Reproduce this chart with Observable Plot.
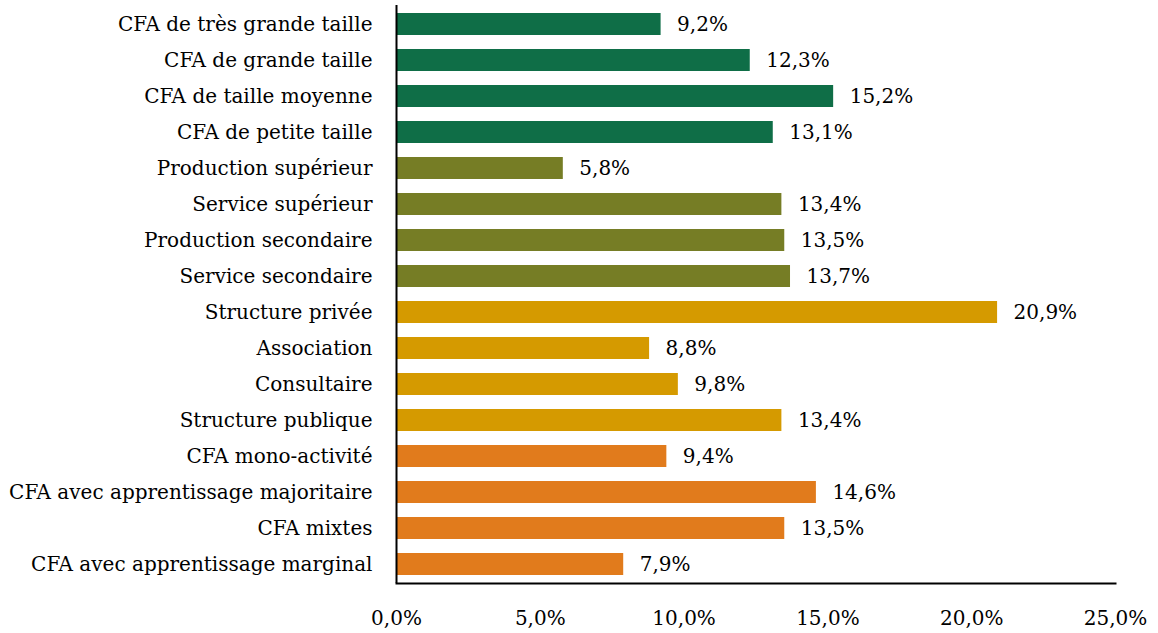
<!DOCTYPE html>
<html><head><meta charset="utf-8">
<script src="https://cdn.jsdelivr.net/npm/d3@7"></script>
<script src="https://cdn.jsdelivr.net/npm/@observablehq/plot@0.6"></script>
<style>
html,body{margin:0;padding:0;background:#fff;}
svg{font-family:"DejaVu Serif",serif;}
</style></head>
<body><div id="chart"></div>
<script>
const categories = [
  "CFA de très grande taille","CFA de grande taille","CFA de taille moyenne","CFA de petite taille",
  "Production supérieur","Service supérieur","Production secondaire","Service secondaire",
  "Structure privée","Association","Consultaire","Structure publique",
  "CFA mono-activité","CFA avec apprentissage majoritaire","CFA mixtes","CFA avec apprentissage marginal"
];
const values = [9.2,12.3,15.2,13.1, 5.8,13.4,13.5,13.7, 20.9,8.8,9.8,13.4, 9.4,14.6,13.5,7.9];
const groups = ["taille","taille","taille","taille","niveau","niveau","niveau","niveau",
  "statut","statut","statut","statut","activite","activite","activite","activite"];
const groupNames = ["taille","niveau","statut","activite"];
const groupColors = ["#0f6e47","#767d25","#d59a00","#e17b1c"];
const xTicks = [0,5,10,15,20,25];

const data = categories.map((c,i)=>({cat:c, v:values[i], g:groups[i]}));
const fmt = d => d.toFixed(1).replace(".", ",") + "%";

const chart = Plot.plot({
  width: 1158, height: 633,
  marginLeft: 396, marginRight: 43, marginTop: 5, marginBottom: 50,
  style: {fontFamily: '"DejaVu Serif", serif', fontSize: "20px", color: "#000", background: "#fff"},
  x: {domain: [0,25], ticks: xTicks, tickFormat: fmt, tickSize: 0, tickPadding: 27, label: null},
  y: {domain: categories, paddingInner: 0.39, paddingOuter: 0.195, tickSize: 0, tickPadding: 24, label: null},
  color: {domain: groupNames, range: groupColors},
  marks: [
    Plot.barX(data, {x: "v", y: "cat", fill: "g"}),
    Plot.text(data, {x: "v", y: "cat", text: d => fmt(d.v), textAnchor: "start", dx: 16, fill: "#000", fontSize: 20}),
    Plot.ruleX([0], {stroke: "#000", strokeWidth: 2}),
    Plot.frame({anchor: "bottom", stroke: "#000", strokeWidth: 2})
  ]
});
document.getElementById("chart").appendChild(chart);
</script></body></html>
